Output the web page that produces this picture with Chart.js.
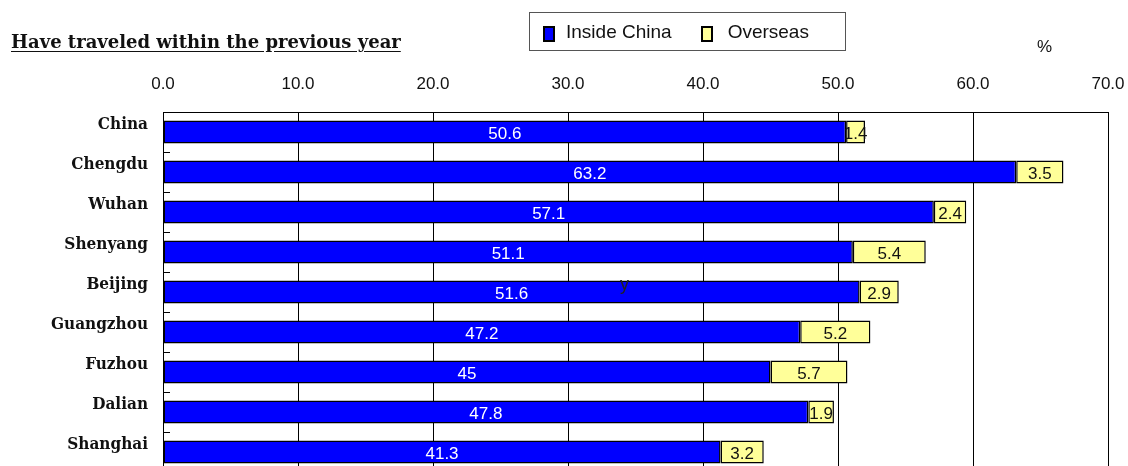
<!DOCTYPE html>
<html>
<head>
<meta charset="utf-8">
<script src="https://cdn.jsdelivr.net/npm/chart.js@4/dist/chart.umd.min.js"></script>
<style>
  html, body { margin: 0; padding: 0; background: #fff; overflow: hidden; }
  #wrap { position: relative; width: 1128px; height: 480px; }
  #c { position: absolute; left: 0; top: 0; }
  .title { position: absolute; left: 11px; top: 31px; font-family: "DejaVu Serif", serif; font-weight: bold; font-size: 18px; color: #111; text-decoration: underline; text-underline-offset: 3px; white-space: nowrap; }
  .legend { position: absolute; left: 529px; top: 12px; width: 317px; height: 39px; border: 1px solid #555; box-sizing: border-box; display: flex; align-items: center; font-family: "Liberation Sans", Arial, sans-serif; font-size: 19px; color: #111; }
  .sw { display: inline-block; width: 8px; height: 12px; border: 2px solid #000; margin-left: 13px; margin-right: 11px; position: relative; top: 2px; }
  .pct { position: absolute; left: 1037px; top: 37px; font-family: "Liberation Sans", Arial, sans-serif; font-size: 17px; color: #111; }
  .stray { position: absolute; left: 620px; top: 274px; font-family: "Liberation Sans", Arial, sans-serif; font-size: 18px; color: #222; }
</style>
</head>
<body>
<div id="wrap">
  <canvas id="c" width="1128" height="480"></canvas>
  <div class="title">Have traveled within the previous year</div>
  <div class="legend"><span class="sw" style="background:#0000FF"></span>Inside China<span class="sw" style="background:#FFFF99;margin-left:29px;margin-right:15px"></span>Overseas</div>
  <div class="pct">%</div>
  <div class="stray">y</div>
</div>
<script>
const categories = ["China", "Chengdu", "Wuhan", "Shenyang", "Beijing", "Guangzhou", "Fuzhou", "Dalian", "Shanghai"];
const insideChina = [50.6, 63.2, 57.1, 51.1, 51.6, 47.2, 45, 47.8, 41.3];
const overseas = [1.4, 3.5, 2.4, 5.4, 2.9, 5.2, 5.7, 1.9, 3.2];
const seriesNames = ["Inside China", "Overseas"];
const xTicks = [0, 10, 20, 30, 40, 50, 60, 70];

const labelPlugin = {
  id: 'valueLabels',
  afterDatasetsDraw(chart) {
    const ctx = chart.ctx;
    ctx.save();
    ctx.font = '17px "Liberation Sans", Arial, sans-serif';
    ctx.textAlign = 'center';
    ctx.textBaseline = 'middle';
    chart.data.datasets.forEach((ds, di) => {
      const meta = chart.getDatasetMeta(di);
      ctx.fillStyle = di === 0 ? '#ffffff' : '#111111';
      meta.data.forEach((el, i) => {
        const p = el.getProps(['x', 'y', 'base'], true);
        ctx.fillText(String(ds.data[i]), (p.x + p.base) / 2, p.y + 2);
      });
    });
    ctx.restore();
  }
};

const innerTicks = {
  id: 'innerTicks',
  afterDatasetsDraw(chart) {
    const ctx = chart.ctx;
    const y = chart.scales.y;
    const left = chart.chartArea.left;
    ctx.save();
    ctx.strokeStyle = '#000';
    ctx.lineWidth = 1;
    for (let i = 1; i < categories.length; i++) {
      const py = Math.round((y.getPixelForValue(i - 1) + y.getPixelForValue(i)) / 2) + 0.5;
      ctx.beginPath();
      ctx.moveTo(left, py);
      ctx.lineTo(left + 7, py);
      ctx.stroke();
    }
    ctx.restore();
  }
};

function zeroPad(scale) {
  scale.paddingLeft = 0; scale.paddingRight = 0; scale.paddingTop = 0; scale.paddingBottom = 0;
}

new Chart(document.getElementById('c'), {
  type: 'bar',
  data: {
    labels: categories,
    datasets: [
      { label: seriesNames[0], data: insideChina, backgroundColor: '#0000FF', borderColor: '#000', borderWidth: 1.5, borderSkipped: false, barPercentage: 0.57, categoryPercentage: 1 },
      { label: seriesNames[1], data: overseas, backgroundColor: '#FFFF99', borderColor: '#000', borderWidth: 1.5, borderSkipped: false, barPercentage: 0.57, categoryPercentage: 1 }
    ]
  },
  options: {
    indexAxis: 'y',
    responsive: false,
    animation: false,
    devicePixelRatio: 1,
    layout: { padding: { top: 60, left: 0, right: 20, bottom: 8 } },
    plugins: { legend: { display: false }, tooltip: { enabled: false }, title: { display: false } },
    scales: {
      x: {
        position: 'top',
        stacked: true,
        min: 0, max: 70,
        afterBuildTicks(scale) { scale.ticks = xTicks.map(v => ({ value: v })); },
        afterFit(scale) { scale.height = 52; zeroPad(scale); },
        ticks: {
          callback: v => Number(v).toFixed(1),
          font: { family: '"Liberation Sans", Arial, sans-serif', size: 17 },
          color: '#111',
          padding: 17,
          maxRotation: 0
        },
        grid: { color: '#000', lineWidth: 1, drawTicks: false },
        border: { display: true, color: '#000', width: 1 }
      },
      y: {
        stacked: true,
        offset: true,
        afterFit(scale) { scale.width = 163; zeroPad(scale); },
        ticks: {
          font: { family: '"DejaVu Serif Condensed", "DejaVu Serif", serif', size: 17, weight: 'bold' },
          color: '#111',
          padding: 15,
          labelOffset: -7
        },
        grid: { display: false, drawTicks: false },
        border: { display: true, color: '#000', width: 1 }
      }
    }
  },
  plugins: [labelPlugin, innerTicks]
});
</script>
</body>
</html>
